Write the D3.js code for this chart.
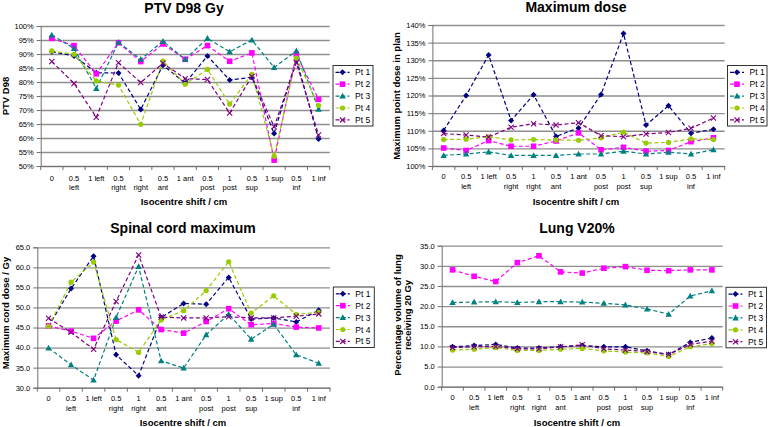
<!DOCTYPE html>
<html><head><meta charset="utf-8">
<script src="https://cdn.jsdelivr.net/npm/d3@7"></script>
<style>
body{margin:0;background:#fff}
svg{display:block}
text{font-family:"Liberation Sans",Arial,Helvetica,sans-serif;fill:#000}
</style>
</head><body>
<svg id="c" width="769" height="427"></svg>
<script>
// ---------- data ----------
const categories = ["0","0.5 left","1 left","0.5 right","1 right","0.5 ant","1 ant","0.5 post","1 post","0.5 sup","1 sup","0.5 inf","1 inf"];
const tickLabels = [["0"],["0.5","left"],["1 left"],["0.5","right"],["1","right"],["0.5","ant"],["1 ant"],["0.5","post"],["1","post"],["0.5","sup"],["1 sup"],["0.5","inf"],["1 inf"]];
const seriesNames = ["Pt 1","Pt 2","Pt 3","Pt 4","Pt 5"];
const seriesColors = ["#000080","#ff00ff","#008080","#99cc00","#800080"];
const seriesMarkers = ["diamond","square","triangle","circle","x"];

const ptvPt1 = [90.8, 89.3, 83.3, 83.2, 70.2, 86.0, 79.6, 89.3, 80.7, 81.7, 61.6, 88.1, 59.6];
const ptvPt2 = [95.6, 93.0, 82.9, 94.0, 87.3, 93.6, 88.1, 93.0, 87.4, 90.4, 52.1, 89.9, 73.8];
const ptvPt3 = [96.8, 92.0, 77.7, 94.2, 88.1, 94.5, 88.1, 95.6, 90.8, 95.0, 85.2, 91.1, 70.3];
const ptvPt4 = [91.1, 89.9, 80.4, 78.9, 64.9, 87.5, 79.2, 84.5, 72.1, 82.7, 53.5, 88.5, 71.6];
const ptvPt5 = [87.3, 79.5, 67.4, 86.9, 79.8, 86.7, 81.2, 80.9, 68.9, 82.0, 64.0, 86.9, 61.1];
const ptvTicks = [50, 55, 60, 65, 70, 75, 80, 85, 90, 95, 100];

const maxPt1 = [110.1, 120.0, 131.5, 112.9, 120.2, 108.4, 110.8, 120.3, 137.6, 111.6, 117.1, 109.3, 110.4];
const maxPt2 = [105.1, 104.4, 107.2, 105.6, 105.6, 107.1, 109.4, 104.6, 105.3, 104.2, 104.4, 106.9, 108.0];
const maxPt3 = [103.0, 103.4, 104.0, 103.0, 103.0, 103.0, 103.4, 103.4, 104.2, 103.4, 103.9, 103.4, 104.6];
const maxPt4 = [107.5, 107.6, 108.3, 107.4, 107.5, 107.4, 107.3, 108.0, 109.6, 106.5, 106.7, 107.7, 107.5];
const maxPt5 = [109.2, 108.8, 108.2, 111.0, 112.0, 111.6, 112.3, 108.6, 108.3, 109.1, 109.5, 110.7, 113.6];
const maxTicks = [100, 105, 110, 115, 120, 125, 130, 135, 140];

const cordPt1 = [45.3, 54.7, 62.8, 38.2, 33.0, 47.5, 51.0, 50.8, 57.5, 47.1, 47.4, 46.4, 49.3];
const cordPt2 = [45.4, 44.1, 42.3, 46.6, 49.4, 44.5, 43.6, 46.5, 49.7, 45.7, 46.0, 45.1, 44.9];
const cordPt3 = [39.9, 35.7, 31.9, 47.5, 60.2, 36.7, 34.9, 43.2, 48.3, 42.1, 45.8, 38.2, 36.1];
const cordPt4 = [45.3, 56.3, 61.3, 42.0, 38.8, 46.9, 49.2, 54.2, 61.4, 48.6, 52.9, 48.3, 48.8];
const cordPt5 = [47.3, 43.8, 39.6, 51.5, 63.1, 47.6, 47.4, 47.4, 47.7, 47.4, 47.4, 47.8, 48.4];
const cordTicks = [30, 35, 40, 45, 50, 55, 60, 65];

const lungPt1 = [9.9, 10.2, 10.5, 9.6, 9.6, 9.9, 10.2, 9.9, 9.9, 8.9, 8.0, 11.0, 12.1];
const lungPt2 = [29.0, 27.4, 26.1, 30.8, 32.5, 28.5, 28.2, 29.4, 29.8, 28.9, 28.8, 29.0, 29.0];
const lungPt3 = [20.9, 21.0, 21.1, 20.9, 21.1, 21.1, 21.0, 20.7, 20.3, 19.3, 18.0, 22.5, 23.8];
const lungPt4 = [9.1, 9.3, 9.7, 9.0, 9.0, 9.3, 9.5, 8.9, 8.6, 8.4, 7.5, 9.9, 10.7];
const lungPt5 = [9.7, 9.9, 10.0, 9.4, 9.4, 9.9, 10.4, 9.4, 9.1, 8.7, 8.0, 10.5, 11.3];
const lungTicks = [0, 5, 10, 15, 20, 25, 30, 35];

// ---------- drawing ----------
const svg = d3.select("#c");

function marker(sel, type, color) {
  if (type === "diamond") {
    sel.append("path").attr("d", "M0,-3L3,0L0,3L-3,0Z").attr("fill", color);
  } else if (type === "square") {
    sel.append("rect").attr("x", -2.8).attr("y", -2.8).attr("width", 5.6).attr("height", 5.6).attr("fill", color);
  } else if (type === "triangle") {
    sel.append("path").attr("d", "M0,-3.3L3.2,2.5L-3.2,2.5Z").attr("fill", color);
  } else if (type === "circle") {
    sel.append("circle").attr("r", 2.6).attr("fill", color);
  } else {
    sel.append("path").attr("d", "M-2.6,-2.6L2.6,2.6M-2.6,2.6L2.6,-2.6").attr("stroke", color).attr("stroke-width", 1.1).attr("fill", "none");
  }
}

function drawPanel(o) {
  const g = svg.append("g");
  const x = d3.scaleBand().domain(categories).range([o.x0, o.x1]);
  const y = d3.scaleLinear().domain([o.ticks[0], o.ticks[o.ticks.length - 1]]).range([o.y1, o.y0]);

  // gridlines
  g.append("g").attr("transform", `translate(${o.x0},0)`)
    .call(d3.axisLeft(y).tickValues(o.ticks).tickSize(-(o.x1 - o.x0)).tickFormat(""))
    .call(s => s.select(".domain").remove())
    .call(s => s.selectAll("line").attr("stroke", "#8e8e8e").attr("stroke-width", 1.3));

  // y axis
  const ya = g.append("g").attr("transform", `translate(${o.x0},0)`)
    .call(d3.axisLeft(y).tickValues(o.ticks).tickSize(4).tickPadding(3).tickFormat(o.fmt));
  ya.select(".domain").attr("stroke", "#707070");
  ya.selectAll("line").attr("stroke", "#707070");
  ya.selectAll("text").attr("font-size", 7.5).attr("font-family", "Liberation Sans, Arial, sans-serif");

  // x axis (tick groups are already centred on each band)
  const xa = g.append("g").attr("transform", `translate(0,${o.y1})`)
    .call(d3.axisBottom(x).tickSize(0).tickFormat(""));
  xa.select(".domain").attr("stroke", "#707070");
  xa.selectAll(".tick").each(function (d, i) {
    const t = d3.select(this).append("text").attr("text-anchor", "middle")
      .attr("font-size", 7.5).attr("fill", "#000")
      .attr("font-family", "Liberation Sans, Arial, sans-serif");
    tickLabels[i].forEach((ln, k) => {
      t.append("tspan").attr("x", 0).attr("y", o.tickY + k * 9.5).text(ln);
    });
  });
  // boundary tick marks
  xa.selectAll(".bnd").data(d3.range(categories.length + 1)).enter().append("line")
    .attr("x1", i => o.x0 + i * x.step()).attr("x2", i => o.x0 + i * x.step())
    .attr("y1", 0).attr("y2", 4).attr("stroke", "#707070");

  // series lines
  const line = d3.line().x((d, i) => x(categories[i]) + x.bandwidth() / 2).y(d => y(d));
  o.series.forEach((vals, s) => {
    g.append("path").datum(vals).attr("d", line).attr("fill", "none")
      .attr("stroke", seriesColors[s]).attr("stroke-width", 1.2).attr("stroke-dasharray", "4,2.5");
  });
  o.series.forEach((vals, s) => {
    vals.forEach((v, i) => {
      const m = g.append("g").attr("transform", `translate(${x(categories[i]) + x.bandwidth() / 2},${y(v)})`);
      marker(m, seriesMarkers[s], seriesColors[s]);
    });
  });

  // title
  g.append("text").attr("x", o.titleX).attr("y", o.titleY).attr("text-anchor", "middle")
    .attr("font-size", 14).attr("font-weight", "bold").text(o.title);
  // x title
  g.append("text").attr("x", o.titleX).attr("y", o.xTitleY).attr("text-anchor", "middle")
    .attr("font-size", 9.5).attr("font-weight", "bold").text("Isocentre shift / cm");
  // y title
  o.yTitle.forEach((ln, k) => {
    g.append("text").attr("transform", `translate(${o.yTitleX + k * 10.5},${o.yTitleCY}) rotate(-90)`)
      .attr("text-anchor", "middle").attr("font-size", 9.5).attr("font-weight", "bold").text(ln);
  });

  // legend
  const lg = g.append("g").attr("transform", `translate(${o.legX},${o.legY})`);
  lg.append("rect").attr("x", 0).attr("y", 0).attr("width", o.legW).attr("height", 60.5)
    .attr("fill", "#fff").attr("stroke", "#333").attr("stroke-width", 1);
  seriesNames.forEach((nm, s) => {
    const ey = 6.8 + s * 11.9;
    lg.append("line").attr("x1", 2.5).attr("x2", 16.5).attr("y1", ey).attr("y2", ey)
      .attr("stroke", seriesColors[s]).attr("stroke-width", 1.2).attr("stroke-dasharray", "4,2");
    const m = lg.append("g").attr("transform", `translate(9.5,${ey})`);
    marker(m, seriesMarkers[s], seriesColors[s]);
    lg.append("text").attr("x", 22).attr("y", ey + 3).attr("font-size", 8.5).text(nm);
  });
}

drawPanel({
  title: "PTV D98 Gy", titleX: 184, titleY: 12.5, xTitleY: 205,
  yTitle: ["PTV D98"], yTitleX: 8.5, yTitleCY: 96,
  x0: 40.7, x1: 329.7, y0: 26, y1: 166, tickY: 14.5,
  ticks: ptvTicks, fmt: d => d + "%",
  series: [ptvPt1, ptvPt2, ptvPt3, ptvPt4, ptvPt5],
  legX: 333, legY: 65.5, legW: 40
});
drawPanel({
  title: "Maximum dose", titleX: 576, titleY: 12, xTitleY: 204.5,
  yTitle: ["Maximum point dose in plan"], yTitleX: 400, yTitleCY: 96,
  x0: 432.4, x1: 724.7, y0: 25, y1: 166, tickY: 13,
  ticks: maxTicks, fmt: d => d + "%",
  series: [maxPt1, maxPt2, maxPt3, maxPt4, maxPt5],
  legX: 727.5, legY: 65.5, legW: 39.5
});
drawPanel({
  title: "Spinal cord maximum", titleX: 183, titleY: 232.5, xTitleY: 425.5,
  yTitle: ["Maximum cord dose / Gy"], yTitleX: 8.5, yTitleCY: 313,
  x0: 37.3, x1: 330, y0: 247.3, y1: 387.7, tickY: 13.5,
  ticks: cordTicks, fmt: d => d.toFixed(1),
  series: [cordPt1, cordPt2, cordPt3, cordPt4, cordPt5],
  legX: 333.3, legY: 287, legW: 41
});
drawPanel({
  title: "Lung V20%", titleX: 577, titleY: 233, xTitleY: 425.5,
  yTitle: ["Percentage volume of lung", "receiving 20 Gy"], yTitleX: 400.5, yTitleCY: 315,
  x0: 441.7, x1: 722.7, y0: 245.7, y1: 386.7, tickY: 13.5,
  ticks: lungTicks, fmt: d => d.toFixed(1),
  series: [lungPt1, lungPt2, lungPt3, lungPt4, lungPt5],
  legX: 726, legY: 287.3, legW: 40.5
});
</script>
</body></html>
